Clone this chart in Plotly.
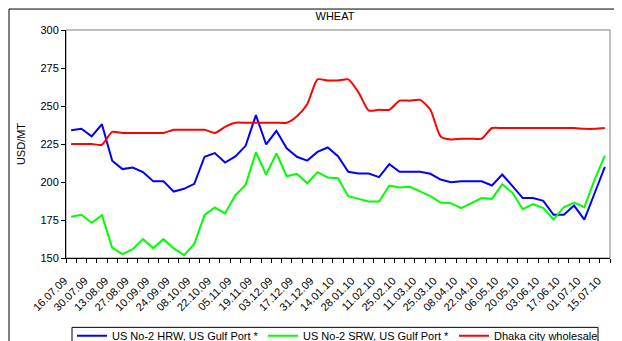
import plotly.graph_objects as go

dates = ["16.07.09", "23.07.09", "30.07.09", "06.08.09", "13.08.09", "20.08.09", "27.08.09",
         "03.09.09", "10.09.09", "17.09.09", "24.09.09", "01.10.09", "08.10.09", "15.10.09",
         "22.10.09", "29.10.09", "05.11.09", "12.11.09", "19.11.09", "26.11.09", "03.12.09",
         "10.12.09", "17.12.09", "24.12.09", "31.12.09", "07.01.10", "14.01.10", "21.01.10",
         "28.01.10", "04.02.10", "11.02.10", "18.02.10", "25.02.10", "04.03.10", "11.03.10",
         "18.03.10", "25.03.10", "01.04.10", "08.04.10", "15.04.10", "22.04.10", "29.04.10",
         "06.05.10", "13.05.10", "20.05.10", "27.05.10", "03.06.10", "10.06.10", "17.06.10",
         "24.06.10", "01.07.10", "08.07.10", "15.07.10"]

hrw = [234, 235, 230, 238, 214, 208.5, 209.5, 206.5, 200.5, 200.5, 193.7, 195.5, 198.8,
       216.6, 219, 212.8, 216.8, 223.8, 244, 224.7, 233.7, 222.2, 216.6, 214.1, 219.8, 222.7,
       217, 206.7, 205.6, 205.6, 203.2, 211.7, 206.7, 206.7, 206.7, 205.4, 201.6, 199.9,
       200.5, 200.5, 200.5, 197.7, 204.9, 197.3, 189.4, 189.4, 187.6, 178.4, 178.4, 184.5,
       175.3, 192.6, 210]

srw = [177.1, 178.4, 173.2, 178.2, 156.7, 152.5, 155.8, 162.4, 156.5, 162.4, 156.3, 151.9,
       159.3, 178.4, 183.2, 179.3, 191.3, 198.1, 219.6, 204.9, 218.8, 203.8, 205.4, 199.2,
       206.5, 203, 202.5, 190.7, 188.9, 187.2, 187.2, 197.7, 196.4, 196.8, 193.8, 190.7,
       186.5, 186.1, 182.8, 186.1, 189.4, 188.9, 198.6, 192.9, 182.1, 185.4, 182.8, 175.3,
       183.4, 186.5, 183.4, 201.6, 217.4]

dhaka = [225, 225, 225, 224.5, 233, 232.3, 232.3, 232.3, 232.3, 232.3, 234.3, 234.3, 234.3,
         234.3, 232.3, 236.3, 239, 239, 239, 239, 239, 239, 243.3, 251.2, 267.5, 266.8,
         266.8, 267.5, 259, 247, 247.5, 247.5, 253.5, 253.5, 254, 247.5, 230, 228, 228.5,
         228.5, 228.5, 235.5, 235.5, 235.5, 235.5, 235.5, 235.5, 235.5, 235.5, 235.5, 235,
         235, 235.5]

end_labels = ["235", "217", "210"]

x = list(range(len(dates)))
FONT = "Liberation Sans, Arial, sans-serif"

# page is drawn with an 8px body margin, so figure coords = page coords - 8
L, R, T, B = 58, 602, 22, 250.5
W, H = 622, 341
PW, PH = R - L, B - T

fig = go.Figure()
fig.add_trace(go.Scatter(x=x, y=hrw, mode="lines", name="US No-2 HRW, US Gulf Port *",
                         line=dict(color="#0000FF", width=2), legendwidth=146))
fig.add_trace(go.Scatter(x=x, y=srw, mode="lines", name="US No-2 SRW, US Gulf Port *",
                         line=dict(color="#00FF00", width=2), legendwidth=146))
fig.add_trace(go.Scatter(x=x, y=dhaka, mode="lines", name="Dhaka city wholesale",
                         line=dict(color="#FF0000", width=2, shape="spline", smoothing=0.6),
                         legendwidth=99))

tickvals = x[::2]
ticktext = dates[::2]

fig.update_layout(
    width=W, height=H,
    margin=dict(l=L, r=W - R, t=T, b=H - B, autoexpand=False),
    paper_bgcolor="white", plot_bgcolor="white",
    font=dict(family=FONT, size=11, color="#000000"),
    showlegend=True,
    legend=dict(orientation="h", x=(64 - L) / PW, y=(B - 314) / PH,
                xanchor="left", yanchor="top",
                borderwidth=0, bgcolor="rgba(0,0,0,0)",
                font=dict(size=11), itemwidth=30, tracegroupgap=0),
    title=dict(text="WHEAT", x=327 / W, xanchor="center", y=1 - 8 / H,
               yanchor="middle", font=dict(size=11, color="#000000")),
)

fig.update_xaxes(
    range=[-0.5, len(dates) - 0.5],
    tickmode="array", tickvals=tickvals, ticktext=ticktext,
    tickangle=-45, ticks="", showgrid=False, zeroline=False,
    showline=True, linecolor="#000000", linewidth=1,
    tickfont=dict(size=11, color="#000000"),
    ticklabelshift=-7, ticklabelstandoff=11,
    minor=dict(ticks="outside", tick0=-0.5, dtick=1, ticklen=4, tickcolor="#000000",
               showgrid=False),
)
fig.update_yaxes(
    range=[150, 300], dtick=25, tick0=150,
    ticks="outside", ticklen=4, tickcolor="#000000",
    showgrid=False, zeroline=False,
    showline=True, linecolor="#000000", linewidth=1,
    tickfont=dict(size=11, color="#000000"),
    title=dict(text="USD/MT", standoff=12, font=dict(size=11, color="#000000")),
)

# plot-area border (gray), outer chart border, legend box
fig.add_shape(type="rect", xref="paper", yref="paper", x0=0, x1=1, y0=0, y1=1,
              line=dict(color="#808080", width=1), layer="below")
fig.add_shape(type="rect", xref="paper", yref="paper",
              x0=(1 - L) / PW, x1=1.2, y0=-0.6, y1=(B - 1) / PH,
              line=dict(color="#000000", width=1), layer="below")
fig.add_shape(type="rect", xref="paper", yref="paper",
              x0=(64 - L) / PW, x1=(590 - L) / PW, y0=-0.6, y1=(B - 320) / PH,
              line=dict(color="#000000", width=1), layer="below")

# clipped end-point data labels
for val, txt, shift in zip([dhaka[-1], srw[-1], hrw[-1]], end_labels, [8, 8, -2]):
    fig.add_annotation(x=x[-1], y=val, xref="x", yref="y", text=txt, showarrow=False,
                       xanchor="left", xshift=8, yshift=shift,
                       font=dict(size=11, color="#000000"))

fig.write_html("out.html")
